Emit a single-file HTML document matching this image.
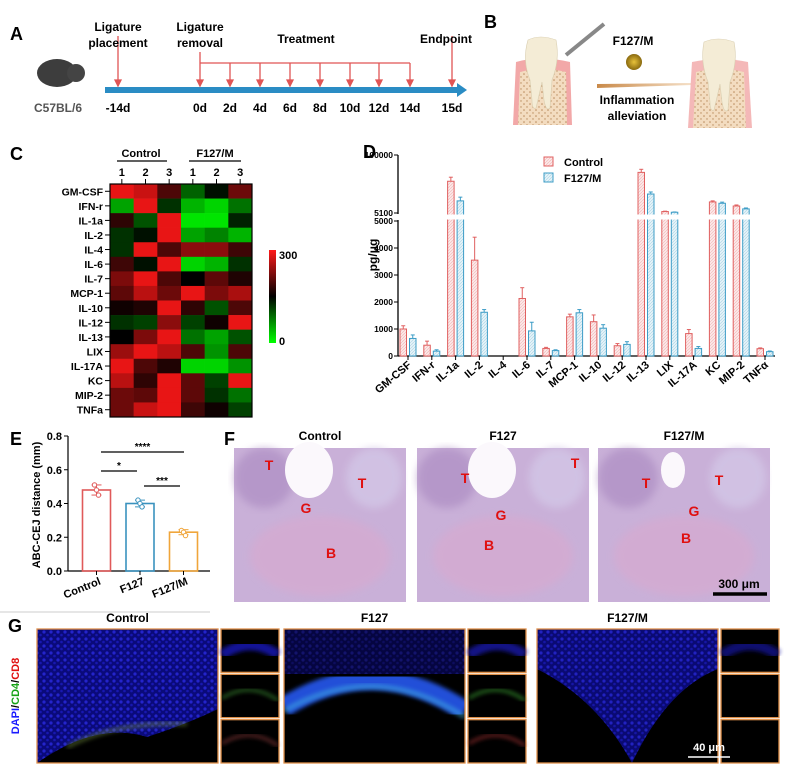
<!DOCTYPE html>
<html><head><meta charset="utf-8">
<style>
html,body{margin:0;padding:0;background:#fff;}
svg{display:block;font-family:"Liberation Sans",Arial,sans-serif;}
.b{font-weight:bold;}
</style></head>
<body>
<svg id="fig" width="789" height="778" viewBox="0 0 789 778" xmlns="http://www.w3.org/2000/svg">
<defs>
<pattern id="hatchR" width="3" height="3" patternUnits="userSpaceOnUse"><rect width="3" height="3" fill="#fbe9e9"/><path d="M0 3 L3 0" stroke="#f2b4b4" stroke-width="0.6"/></pattern>
<pattern id="hatchB" width="3" height="3" patternUnits="userSpaceOnUse"><rect width="3" height="3" fill="#e6f3f8"/><path d="M0 3 L3 0" stroke="#a9d3e6" stroke-width="0.6"/></pattern>
<pattern id="bone" width="6" height="6" patternUnits="userSpaceOnUse"><rect width="6" height="6" fill="#f3dcc0"/><circle cx="2" cy="2" r="0.8" fill="#b98a5c"/><circle cx="5" cy="5" r="0.7" fill="#b98a5c"/></pattern>
<pattern id="cells" width="7" height="7" patternUnits="userSpaceOnUse"><rect width="7" height="7" fill="#0c0c90"/><circle cx="2" cy="2" r="1.6" fill="#2a2af0"/><circle cx="5.5" cy="5" r="1.3" fill="#1c1cd0"/></pattern>
<linearGradient id="cbar" x1="0" y1="1" x2="0" y2="0"><stop offset="0" stop-color="#00ff00"/><stop offset="0.5" stop-color="#000"/><stop offset="1" stop-color="#ff1a1a"/></linearGradient>
<linearGradient id="arrowGrad" x1="0" x2="1"><stop offset="0" stop-color="#c98a4a"/><stop offset="1" stop-color="#f5e0c8"/></linearGradient>
<filter id="blur2"><feGaussianBlur stdDeviation="2"/></filter>
<filter id="blur4"><feGaussianBlur stdDeviation="4"/></filter>
<radialGradient id="ball"><stop offset="0" stop-color="#e8c23a"/><stop offset="1" stop-color="#8a6a10"/></radialGradient>
</defs>

<g>
<text x="10" y="40" font-size="18" class="b">A</text>
<ellipse cx="57" cy="73" rx="20" ry="14" fill="#3d3d3d"/>
<circle cx="76" cy="73" r="9" fill="#444"/>
<text x="58" y="112" font-size="12" class="b" fill="#555" text-anchor="middle">C57BL/6</text>
<rect x="105" y="87" width="352" height="6" fill="#2a8cc4"/>
<polygon points="457,83 467,90 457,97" fill="#2a8cc4"/>
<g id="timelineArrows" stroke="#e05555" fill="#e05555" stroke-width="1.3"></g>
<text x="118" y="31" font-size="12" class="b" text-anchor="middle">Ligature</text>
<text x="118" y="47" font-size="12" class="b" text-anchor="middle">placement</text>
<text x="200" y="31" font-size="12" class="b" text-anchor="middle">Ligature</text>
<text x="200" y="47" font-size="12" class="b" text-anchor="middle">removal</text>
<text x="306" y="43" font-size="12" class="b" text-anchor="middle">Treatment</text>
<text x="446" y="43" font-size="12" class="b" text-anchor="middle">Endpoint</text>
</g>

<g>
<text x="484" y="28" font-size="18" class="b">B</text>
<path d="M513 125 L516 62 Q540 55 570 62 L572 125 Z" fill="#f2a8a8"/>
<path d="M518 125 L520 72 Q542 66 566 72 L567 125 Z" fill="url(#bone)"/>
<path d="M528 40 Q540 34 556 40 Q560 60 552 80 L550 108 Q546 112 544 100 L542 82 Q538 100 536 108 Q532 110 532 100 L530 80 Q522 60 528 40 Z" fill="#f4ecd6" stroke="#d9ceb0" stroke-width="0.6"/>
<line x1="566" y1="55" x2="604" y2="24" stroke="#888" stroke-width="4"/>
<text x="633" y="45" font-size="12" class="b" text-anchor="middle">F127/M</text>
<circle cx="634" cy="62" r="8" fill="url(#ball)"/>
<polygon points="597,84 692,83 692,85 597,88" fill="url(#arrowGrad)"/>
<text x="637" y="104" font-size="12" class="b" text-anchor="middle">Inflammation</text>
<text x="637" y="120" font-size="12" class="b" text-anchor="middle">alleviation</text>
<path d="M688 128 L692 62 Q720 56 748 62 L752 128 Z" fill="#f4b8b8"/>
<path d="M693 128 L696 72 Q720 66 744 72 L746 128 Z" fill="url(#bone)"/>
<path d="M704 42 Q718 36 734 42 Q738 62 730 82 L728 110 Q724 114 722 102 L720 84 Q716 102 714 110 Q710 112 710 102 L708 82 Q700 62 704 42 Z" fill="#f4ecd6" stroke="#d9ceb0" stroke-width="0.6"/>
</g>

<g>
<text x="10" y="160" font-size="18" class="b">C</text>
<text x="141" y="157" font-size="11" class="b" text-anchor="middle">Control</text>
<line x1="117" y1="161" x2="167" y2="161" stroke="#000" stroke-width="1.3"/>
<text x="215" y="157" font-size="11" class="b" text-anchor="middle">F127/M</text>
<line x1="189" y1="161" x2="241" y2="161" stroke="#000" stroke-width="1.3"/>
<g id="heat"></g>
<rect x="269" y="250" width="7" height="93" fill="url(#cbar)"/>
<text x="279" y="259" font-size="11" class="b">300</text>
<text x="279" y="345" font-size="11" class="b">0</text>
</g>

<g>
<text x="363" y="158" font-size="18" class="b">D</text>
<text transform="translate(377,255) rotate(-90)" font-size="12" class="b" text-anchor="middle">pg/μg</text>
<g id="dchart"></g>
<rect x="544" y="157" width="9" height="9" fill="url(#hatchR)" stroke="#e06060"/>
<text x="564" y="166" font-size="11" class="b">Control</text>
<rect x="544" y="173" width="9" height="9" fill="url(#hatchB)" stroke="#3c9cc6"/>
<text x="564" y="182" font-size="11" class="b">F127/M</text>
</g>

<g>
<text x="10" y="445" font-size="18" class="b">E</text>
<text transform="translate(40,505) rotate(-90)" font-size="11" class="b" text-anchor="middle">ABC-CEJ distance (mm)</text>
<g id="echart"></g>
<line x1="0" y1="612" x2="210" y2="612" stroke="#ccc" stroke-width="1"/>
</g>

<g>
<text x="224" y="445" font-size="18" class="b">F</text>
<g id="fpanels"></g>
</g>

<g>
<text x="8" y="632" font-size="18" class="b">G</text>
<text transform="translate(19,696) rotate(-90)" font-size="11" class="b" text-anchor="middle"><tspan fill="#1a1aff">DAPI</tspan><tspan fill="#000">/</tspan><tspan fill="#17a317">CD4</tspan><tspan fill="#000">/</tspan><tspan fill="#e01010">CD8</tspan></text>
<g id="gpanels"></g>
</g>
</svg>

<script>
var NS="http://www.w3.org/2000/svg";
function mk(tag,attrs,parent){var e=document.createElementNS(NS,tag);for(var k in attrs)e.setAttribute(k,attrs[k]);if(parent)parent.appendChild(e);return e;}

var tlDays=["-14d","0d","2d","4d","6d","8d","10d","12d","14d","15d"];
var tlX=[118,200,230,260,290,320,350,379,410,452];
var heatRows=["GM-CSF","IFN-r","IL-1a","IL-2","IL-4","IL-6","IL-7","MCP-1","IL-10","IL-12","IL-13","LIX","IL-17A","KC","MIP-2","TNFa"];
var heatCols=["1","2","3","1","2","3"];
var heatVals=[
[300,280,200,90,140,220],
[50,300,120,40,20,80],
[180,100,300,10,10,130],
[120,140,300,50,70,40],
[120,300,200,240,240,190],
[190,140,300,20,40,120],
[230,300,200,150,210,170],
[210,270,220,300,230,260],
[160,170,300,180,100,200],
[120,110,240,110,160,300],
[150,230,300,80,50,100],
[250,300,270,200,60,200],
[300,200,170,20,20,60],
[270,180,300,210,110,300],
[220,210,300,210,120,80],
[220,280,300,190,160,110]];
var dCats=["GM-CSF","IFN-r","IL-1a","IL-2","IL-4","IL-6","IL-7","MCP-1","IL-10","IL-12","IL-13","LIX","IL-17A","KC","MIP-2","TNFα"];
var dControl=[1000,400,26000,3550,0,2130,280,1450,1270,380,41000,5500,830,9000,7300,270];
var dControlErr=[120,150,6000,850,0,400,40,100,250,80,7000,100,150,500,400,30];
var dF127M=[650,180,9500,1620,0,930,200,1600,1030,430,13500,5300,280,8400,6300,160];
var dF127MErr=[130,50,2000,100,0,320,30,120,130,100,1500,80,70,500,300,25];
var dLowTicks=[0,1000,2000,3000,4000,5000];
var dHighTicks=[5100,100000];
var eGroups=["Control","F127","F127/M"];
var eMeans=[0.48,0.40,0.23];
var eErr=[0.03,0.02,0.015];
var ePoints=[[0.51,0.48,0.45],[0.42,0.40,0.38],[0.24,0.23,0.21]];
var eTicks=[0,0.2,0.4,0.6,0.8];

(function(){
var ta=document.getElementById('timelineArrows');
for(var i=0;i<tlDays.length;i++){
  var topY=(i===0||i===9)?36:(i===1?52:63);
  mk('line',{x1:tlX[i],y1:topY,x2:tlX[i],y2:84},ta);
  mk('polygon',{points:(tlX[i]-3)+',80 '+(tlX[i]+3)+',80 '+tlX[i]+',86'},ta);
  var t=mk('text',{x:tlX[i],y:112,'font-size':12,'text-anchor':'middle','font-weight':'bold',fill:'#000',stroke:'none'},ta);
  t.textContent=tlDays[i];
  
  
}
mk('line',{x1:200,y1:63,x2:410,y2:63},ta);

var hx0=110,hx1=252,hy0=184,hy1=417;
var cw=(hx1-hx0)/heatCols.length, rh=(hy1-hy0)/heatRows.length;
function heatColor(v){if(v<150){var g=Math.round((1-v/150)*245);return 'rgb(0,'+g+',0)';}var r=Math.round((v-150)/150*232);return 'rgb('+r+','+Math.round(r*0.09)+','+Math.round(r*0.09)+')';}
var hg=document.getElementById('heat');
for(var r=0;r<heatRows.length;r++){
  for(var c=0;c<heatCols.length;c++){
    var cell=mk('rect',{x:hx0+c*cw,y:hy0+r*rh,width:cw+0.3,height:rh+0.3,fill:heatColor(heatVals[r][c])},hg);
    
    
  }
  var lbl=mk('text',{x:hx0-7,y:hy0+r*rh+rh/2+4,'font-size':10.5,'font-weight':'bold','text-anchor':'end'},hg);
  lbl.textContent=heatRows[r];
  
  
  mk('line',{x1:hx0-5,y1:hy0+r*rh+rh/2,x2:hx0,y2:hy0+r*rh+rh/2,stroke:'#000'},hg);
}
for(var c2=0;c2<heatCols.length;c2++){
  var cx=hx0+c2*cw+cw/2;
  var cl=mk('text',{x:cx,y:176,'font-size':11,'font-weight':'bold','text-anchor':'middle'},hg);
  cl.textContent=heatCols[c2];
  
  
  mk('line',{x1:cx,y1:179,x2:cx,y2:hy0,stroke:'#000'},hg);
}
mk('rect',{x:hx0,y:hy0,width:hx1-hx0,height:hy1-hy0,fill:'none',stroke:'#000','stroke-width':1.2},hg);

var dY0=356,dY5000=221,dY5100=213,dYtop=155,dAxisX=398,dX0=408,dX1=765;
function dy(v){
  if(v<=5000) return dY0-(v/5000)*(dY0-dY5000);
  var f=(Math.log10(v)-Math.log10(5100))/(Math.log10(100000)-Math.log10(5100));
  return dY5100-f*(dY5100-dYtop);
}
function dx(i){return dX0+i*(dX1-dX0)/(dCats.length-1);}
var dg=document.getElementById('dchart');
mk('line',{x1:dAxisX,y1:dY0,x2:dAxisX,y2:dY5000-1,stroke:'#000','stroke-width':1.3},dg);
mk('line',{x1:dAxisX,y1:dY5100+1,x2:dAxisX,y2:dYtop,stroke:'#000','stroke-width':1.3},dg);
mk('line',{x1:dAxisX,y1:dY0,x2:775,y2:dY0,stroke:'#000','stroke-width':1.3},dg);
dLowTicks.concat(dHighTicks).forEach(function(t){
  var y=dy(t);
  mk('line',{x1:dAxisX-4,y1:y,x2:dAxisX,y2:y,stroke:'#000'},dg);
  var tl=mk('text',{x:dAxisX-5,y:y+3,'font-size':8.5,'font-weight':'bold','text-anchor':'end'},dg);
  tl.textContent=t;
  
  
});
var bw=6.5;
function bar(x,v,e,fill,stroke,name){
  if(v<=0) return;
  var y=dy(v);
  var b=mk('rect',{x:x,y:y,width:bw,height:dY0-y,fill:fill,stroke:stroke,'stroke-width':1},dg);
  
  
  var ye=dy(v+e);
  mk('line',{x1:x+bw/2,y1:y,x2:x+bw/2,y2:ye,stroke:stroke,'stroke-width':1},dg);
  mk('line',{x1:x+bw/2-2,y1:ye,x2:x+bw/2+2,y2:ye,stroke:stroke,'stroke-width':1},dg);
}
for(var i2=0;i2<dCats.length;i2++){
  var cxd=dx(i2);
  bar(cxd-bw-1.5,dControl[i2],dControlErr[i2],'url(#hatchR)','#e06060','bar-control');
  bar(cxd+1.5,dF127M[i2],dF127MErr[i2],'url(#hatchB)','#3c9cc6','bar-f127m');
  mk('line',{x1:cxd,y1:dY0,x2:cxd,y2:dY0+4,stroke:'#000'},dg);
  var xl=mk('text',{transform:'translate('+(cxd+4)+','+(dY0+10)+') rotate(-40)','font-size':11,'font-weight':'bold','text-anchor':'end'},dg);
  xl.textContent=dCats[i2];
  
  
}
mk('rect',{x:dAxisX+2,y:dY5100+1.5,width:380,height:dY5000-dY5100-3,fill:'#fff'},dg);

var eColors=["#e05a5a","#3a92be","#f0a53a"];
var eY0=571,eYmax=436,eAxisX=68,eXEnd=210;
function ey(v){return eY0-(v/0.8)*(eY0-eYmax);}
var eCenters=[96.5,140,183.5];
var eg=document.getElementById('echart');
mk('line',{x1:eAxisX,y1:eY0,x2:eAxisX,y2:eYmax,stroke:'#000','stroke-width':1.2},eg);
mk('line',{x1:eAxisX,y1:eY0,x2:eXEnd,y2:eY0,stroke:'#000','stroke-width':1.2},eg);
eTicks.forEach(function(t){
  var y=ey(t);
  mk('line',{x1:eAxisX-4,y1:y,x2:eAxisX,y2:y,stroke:'#000'},eg);
  var tl=mk('text',{x:eAxisX-6,y:y+4,'font-size':11,'font-weight':'bold','text-anchor':'end'},eg);
  tl.textContent=t.toFixed(1);
  
  
});
eGroups.forEach(function(gname,i){
  var cx=eCenters[i],y=ey(eMeans[i]);
  var b=mk('rect',{x:cx-14,y:y,width:28,height:eY0-y,fill:'none',stroke:eColors[i],'stroke-width':1.6},eg);
  
  
  var ye=ey(eMeans[i]+eErr[i]),yl=ey(eMeans[i]-eErr[i]);
  mk('line',{x1:cx,y1:ye,x2:cx,y2:yl,stroke:eColors[i]},eg);
  mk('line',{x1:cx-5,y1:ye,x2:cx+5,y2:ye,stroke:eColors[i]},eg);
  mk('line',{x1:cx-5,y1:yl,x2:cx+5,y2:yl,stroke:eColors[i]},eg);
  ePoints[i].forEach(function(p,k){
    var pt=mk('circle',{cx:cx+(k-1)*2,cy:ey(p),r:2.2,fill:'#fff',stroke:eColors[i],'stroke-width':1},eg);
    
    
  });
  mk('line',{x1:cx,y1:eY0,x2:cx,y2:eY0+4,stroke:'#000'},eg);
  var xl=mk('text',{transform:'translate('+(cx+5)+','+(eY0+13)+') rotate(-22)','font-size':11,'font-weight':'bold','text-anchor':'end'},eg);
  xl.textContent=gname;
  
  
});
var eSig=[[101,184,452,"****"],[101,137,471,"*"],[144,180,486,"***"]];
eSig.forEach(function(s){
  mk('line',{x1:s[0],y1:s[2],x2:s[1],y2:s[2],stroke:'#000','stroke-width':1.2},eg);
  var t=mk('text',{x:(s[0]+s[1])/2,y:s[2]-2,'font-size':10,'font-weight':'bold','text-anchor':'middle'},eg);
  t.textContent=s[3];
  
  
});

var fTitles=["Control","F127","F127/M"];
var fX=[234,417,598],fW=172,fY=448,fH=154;
var fLetters=[[["T",35,22],["T",128,40],["G",72,65],["B",97,110]],[["T",48,35],["T",158,20],["G",84,72],["B",72,102]],[["T",48,40],["T",121,37],["G",96,68],["B",88,95]]];
var fg=document.getElementById('fpanels');
for(var j=0;j<3;j++){
  var g=mk('g',{},fg);
  
  
  var tt=mk('text',{x:fX[j]+fW/2,y:440,'font-size':12,'font-weight':'bold','text-anchor':'middle'},fg);
  tt.textContent=fTitles[j];
  
  
  mk('rect',{x:fX[j],y:fY,width:fW,height:fH,fill:'#c9b0d8'},g);
  mk('ellipse',{cx:fX[j]+fW*0.5,cy:fY+fH*0.7,rx:70,ry:40,fill:'#d9a9cf',opacity:0.6,filter:'url(#blur4)'},g);
  mk('ellipse',{cx:fX[j]+30,cy:fY+30,rx:30,ry:30,fill:'#a988c0',opacity:0.6,filter:'url(#blur4)'},g);
  mk('ellipse',{cx:fX[j]+140,cy:fY+30,rx:28,ry:30,fill:'#d3c6e6',opacity:0.8,filter:'url(#blur4)'},g);
  mk('ellipse',{cx:fX[j]+75,cy:fY+22,rx:j===2?12:24,ry:j===2?18:28,fill:'#fbf8fc'},g);
  fLetters[j].forEach(function(L){
    var t=mk('text',{x:fX[j]+L[1],y:fY+L[2],'font-size':14,'font-weight':'bold',fill:'#e01010','text-anchor':'middle'},fg);
    t.textContent=L[0];
    
    
  });
}
mk('line',{x1:713,y1:594,x2:767,y2:594,stroke:'#000','stroke-width':3.5},fg);
var sb=mk('text',{x:739,y:588,'font-size':12,'font-weight':'bold','text-anchor':'middle'},fg);
sb.textContent="300 μm";



var gTitles=["Control","F127","F127/M"];
var gMainX=[37,284,537],gMainW=181,gInsW=58,gY=629,gH=134;
var gg=document.getElementById('gpanels');
for(var q=0;q<3;q++){
  var x=gMainX[q];
  var gt=mk('text',{x:x+gMainW/2,y:622,'font-size':12,'font-weight':'bold','text-anchor':'middle'},gg);
  gt.textContent=gTitles[q];
  
  
  var m=mk('g',{},gg);
  
  
  mk('rect',{x:x,y:gY,width:gMainW,height:gH,fill:'#000'},m);
  var cp=mk('clipPath',{id:'cp'+q},m);
  mk('rect',{x:x,y:gY,width:gMainW,height:gH},cp);
  var inner=mk('g',{'clip-path':'url(#cp'+q+')'},m);
  if(q===0){
    mk('path',{d:'M'+x+' '+gY+' H'+(x+gMainW)+' V'+(gY+80)+' Q'+(x+150)+' '+(gY+95)+' '+(x+110)+' '+(gY+108)+' Q'+(x+60)+' '+(gY+92)+' '+x+' '+(gY+134)+' Z',fill:'url(#cells)',opacity:0.85},inner);
    mk('path',{d:'M'+(x+30)+' '+(gY+118)+' Q'+(x+80)+' '+(gY+92)+' '+(x+150)+' '+(gY+95),fill:'none',stroke:'#7a9a40','stroke-width':4,opacity:0.5,filter:'url(#blur2)'},inner);
  } else if(q===1){
    mk('rect',{x:x,y:gY,width:gMainW,height:45,fill:'url(#cells)',opacity:0.45},inner);
    mk('path',{d:'M'+x+' '+(gY+78)+' Q'+(x+90)+' '+(gY+22)+' '+(x+gMainW)+' '+(gY+82)},inner).setAttribute('style','fill:none;stroke:#2050d8;stroke-width:20;filter:url(#blur2)');
    mk('path',{d:'M'+x+' '+(gY+82)+' Q'+(x+90)+' '+(gY+30)+' '+(x+gMainW)+' '+(gY+88),fill:'none',stroke:'#40b0e0','stroke-width':5,opacity:0.55,filter:'url(#blur2)'},inner);
  } else {
    mk('path',{d:'M'+x+' '+gY+' H'+(x+gMainW)+' V'+(gY+40)+' Q'+(x+130)+' '+(gY+60)+' '+(x+95)+' '+(gY+134)+' Q'+(x+60)+' '+(gY+70)+' '+x+' '+(gY+40)+' Z',fill:'url(#cells)',opacity:0.8},inner);
  }
  mk('rect',{x:x,y:gY,width:gMainW,height:gH,fill:'none',stroke:'#e0904a','stroke-width':1.3},m);
  var ih=(gH-4)/3;
  var insColors=[['#1a1ad8','#3a8a30','#8a3a3a'],['#1a1ac0','#3aa030','#a03030'],['#1515a0','#000','#000']];
  for(var k=0;k<3;k++){
    var iy=gY+k*(ih+2);
    var ins=mk('rect',{x:x+gMainW+3,y:iy,width:gInsW,height:ih,fill:'#000',stroke:'#e0904a','stroke-width':1.3},gg);
    
    
    if(insColors[q][k]!=='#000'){
      mk('path',{d:'M'+(x+gMainW+4)+' '+(iy+(k===0?ih*0.6:ih*0.55))+' Q'+(x+gMainW+3+gInsW/2)+' '+(iy+ih*0.15)+' '+(x+gMainW+2+gInsW)+' '+(iy+ih*0.6),fill:'none',stroke:insColors[q][k],'stroke-width':k===0?10:3,opacity:0.7,filter:'url(#blur2)'},gg);
    }
  }
}
mk('line',{x1:688,y1:757,x2:730,y2:757,stroke:'#fff','stroke-width':1.5},gg);
var gs=mk('text',{x:709,y:751,'font-size':11,'font-weight':'bold',fill:'#fff','text-anchor':'middle'},gg);
gs.textContent="40 μm";


})();
</script>
</body></html>
